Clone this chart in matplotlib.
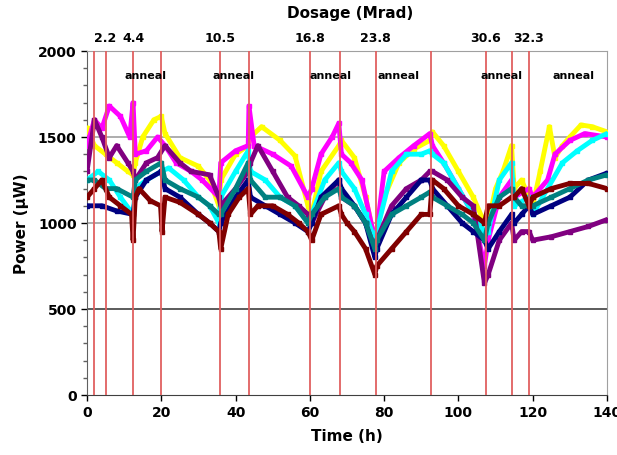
import numpy as np
import matplotlib
matplotlib.use("Agg")
import matplotlib.pyplot as plt

# red lines (h) and dosage labels
line_times = [2, 5, 12.5, 20, 35.7, 43.5, 60, 68, 77.7, 92.5, 107.3, 114.5, 119]
dose_times = [5, 12.5, 35.7, 60, 77.7, 107.3, 119]
dose_labels = ["2.2", "4.4", "10.5", "16.8", "23.8", "30.6", "32.3"]
anneal_times = [15.7, 39.5, 65.5, 84, 111.5, 131]

# series (time h, power uW)
yellow_t = [0, 2, 5, 8, 11, 12.4, 13, 15, 18, 20, 21, 25, 30, 33, 35.5,
            36, 40, 43.4, 44, 47, 52, 56, 59.5, 60.5, 63, 67.8,
            68.5, 72, 75, 77.5, 78, 80, 84, 88, 92.3, 93, 96, 100, 104, 107,
            108, 110, 112, 114.3, 115, 117, 119, 120, 122, 124.5, 126, 128, 130, 133, 136, 140]
yellow_p = [1550, 1450, 1400, 1350, 1300, 1280, 1350, 1500, 1600, 1620, 1520, 1380, 1330, 1250, 1100,
            1250, 1400, 1450, 1500, 1560, 1480, 1390, 1100, 1050, 1300, 1450,
            1480, 1380, 1150, 900, 950, 1150, 1350, 1430, 1480, 1530, 1450, 1300, 1150, 1000,
            1000, 1200, 1300, 1450, 1200, 1250, 1150, 1100, 1300, 1560, 1380, 1450, 1500, 1570, 1560, 1530]

magenta_t = [0, 2, 4, 6, 9, 11.5, 12.4, 13, 16, 19, 21, 24, 28, 31, 35.5,
             36, 40, 43.4, 43.6, 45, 50, 55, 59.5, 60.5, 63, 66, 67.8,
             68.5, 71, 74, 77.5, 78, 80, 84, 88, 92.3, 93, 96, 100, 104, 107,
             108, 111, 114.3, 115, 119, 120, 124, 126, 130, 134, 140]
magenta_p = [1450, 1600, 1550, 1680, 1620, 1500, 1700, 1400, 1420, 1500, 1450, 1350, 1300, 1250, 1150,
             1350, 1420, 1450, 1680, 1450, 1400, 1330, 1150, 1200, 1400, 1500, 1580,
             1400, 1350, 1250, 900, 950, 1300, 1380, 1450, 1520, 1450, 1350, 1200, 1050, 750,
             900, 1150, 1250, 1150, 1200, 1150, 1250, 1400, 1480, 1520, 1500]

cyan_t = [0, 3, 6, 9, 12.4, 13, 16, 20, 22, 26, 30, 33, 35.5,
          36, 40, 43.4, 44, 48, 52, 56, 59.5, 60.5, 64, 67.8,
          68.5, 72, 75, 77.5, 78, 82, 86, 90, 92.3, 93, 96, 100, 104, 107,
          108, 111, 114.3, 115, 119, 120, 124, 128, 132, 136, 140]
cyan_p = [1250, 1300, 1250, 1150, 1050, 1200, 1250, 1300, 1320, 1250, 1150, 1100, 1000,
          1150, 1300, 1420, 1300, 1250, 1150, 1100, 1000, 1050, 1250, 1350,
          1300, 1200, 1050, 900, 950, 1300, 1400, 1400, 1420, 1400, 1350, 1200, 1050, 950,
          950, 1250, 1350, 1100, 1150, 1050, 1200, 1350, 1420, 1480, 1520]

purple_t = [0, 2, 4, 6, 8, 11, 12.4, 13, 16, 19, 21, 25, 28, 33, 35.5,
            36, 40, 43.4, 44, 46, 50, 54, 57, 59.5, 60.5, 64, 67.8,
            68.5, 72, 75, 77.5, 78, 82, 86, 90, 92.3, 93, 97, 101, 104, 107,
            108, 111, 114.3, 115, 117, 119, 120, 125, 130, 135, 140]
purple_p = [1300, 1600, 1500, 1380, 1450, 1350, 1300, 1250, 1350, 1380, 1450, 1350, 1300, 1280, 1150,
            1100, 1200, 1300, 1350, 1450, 1300, 1150, 1100, 1050, 1000, 1150, 1250,
            1150, 1100, 1000, 850, 900, 1100, 1200, 1250, 1300, 1300, 1250, 1150, 1100, 650,
            700, 900, 1000, 900, 950, 950, 900, 920, 950, 980, 1020]

navy_t = [0, 4, 8, 12.4, 13, 16, 20, 21, 25, 30, 33, 35.5,
          36, 40, 43.4, 44, 48, 52, 56, 59.5, 60.5, 63, 67.8,
          68.5, 72, 75, 77.5, 78, 82, 86, 90, 92.3, 93, 97, 101, 104, 107,
          108, 111, 114.3, 115, 117, 119, 120, 125, 130, 135, 140]
navy_p = [1100, 1100, 1070, 1050, 1150, 1250, 1300, 1200, 1150, 1050, 1000, 950,
          1000, 1150, 1250, 1150, 1100, 1050, 1000, 950, 1000, 1150, 1250,
          1200, 1100, 1000, 800, 850, 1050, 1150, 1250, 1250, 1200, 1100, 1000, 950, 900,
          850, 950, 1050, 1000, 1050, 1100, 1050, 1100, 1150, 1250, 1290]

teal_t = [0, 2, 5, 8, 12.4, 13, 16, 20, 21, 25, 30, 33, 35.5,
          36, 40, 43.4, 44, 48, 52, 56, 59.5, 60.5, 64, 67.8,
          68.5, 72, 75, 77.5, 78, 82, 86, 90, 92.3, 93, 97, 101, 104, 107,
          108, 111, 114.3, 115, 117, 119, 120, 125, 130, 135, 140]
teal_p = [1250, 1250, 1200, 1200, 1150, 1250, 1300, 1350, 1250, 1200, 1150, 1100, 1050,
          1050, 1200, 1350, 1250, 1150, 1150, 1100, 1000, 1050, 1150, 1200,
          1150, 1100, 1000, 850, 900, 1050, 1100, 1150, 1180, 1150, 1100, 1050, 1000, 900,
          1000, 1150, 1200, 1150, 1100, 1100, 1100, 1150, 1200, 1250, 1280]

darkred_t = [0, 2, 4, 6, 9, 12, 12.4, 13, 14, 17, 19.8, 20.2, 21, 25, 30, 33, 35.5,
             36, 38, 41, 43.4, 44, 46, 50, 54, 57, 59.5, 60.5, 63, 67.8,
             68.5, 70, 72, 75, 77.5, 78, 82, 86, 90, 92.3, 93, 96, 100, 104, 107,
             108, 111, 114.3, 115, 117, 119, 120, 125, 130, 135, 140]
darkred_p = [1150, 1200, 1250, 1150, 1100, 1050, 900, 1150, 1200, 1130, 1100, 950, 1150, 1120, 1050, 1000, 950,
             850, 1050, 1150, 1200, 1050, 1100, 1100, 1050, 1000, 950, 900, 1050, 1100,
             1050, 1000, 950, 850, 700, 750, 850, 950, 1050, 1050, 1250, 1200, 1100, 1050, 1000,
             1100, 1100, 1150, 1150, 1200, 1100, 1150, 1200, 1230, 1230, 1200]

series = [
    (yellow_t, yellow_p, "#ffff00"),
    (magenta_t, magenta_p, "#ff00ff"),
    (cyan_t, cyan_p, "#00ffff"),
    (purple_t, purple_p, "#800080"),
    (navy_t, navy_p, "#000080"),
    (teal_t, teal_p, "#008080"),
    (darkred_t, darkred_p, "#800000"),
]

fig = plt.figure(figsize=(6.17, 4.56), dpi=100)
ax = fig.add_axes([87 / 617, 60 / 456, 520 / 617, 344 / 456])

for y in [1000, 1500]:
    ax.axhline(y, color="#a0a0a0", lw=1.2, zorder=1)
ax.axhline(500, color="#404040", lw=1.2, zorder=1)

for t in line_times:
    ax.axvline(t, color="#e06060", lw=1.3, zorder=5)

for t, p, c in series:
    ax.plot(t, p, color=c, lw=3.5, marker="s", ms=3, zorder=3)

ax.set_xlim(0, 140)
ax.set_ylim(0, 2000)
ax.set_xticks(range(0, 141, 20))
ax.set_yticks(range(0, 2001, 500))
ax.set_yticks(range(0, 2001, 100), minor=True)
ax.tick_params(axis="both", labelsize=10, direction="out", length=4, width=1)
ax.tick_params(axis="y", which="minor", length=3, width=1, color="#606060")
for lab in ax.get_xticklabels() + ax.get_yticklabels():
    lab.set_fontweight("bold")

ax.spines["top"].set_color("#a0a0a0")
ax.spines["right"].set_color("#a0a0a0")
ax.spines["left"].set_color("#606060")
ax.spines["bottom"].set_color("#404040")

ax.set_xlabel("Time (h)", fontsize=11, fontweight="bold", labelpad=6)
ax.set_ylabel("Power (\u03bcW)", fontsize=11, fontweight="bold", labelpad=6)

for t, lab in zip(dose_times, dose_labels):
    ax.text(t, 2040, lab, ha="center", va="bottom", fontsize=9, fontweight="bold", clip_on=False)
ax.text(70.8, 2180, "Dosage (Mrad)", ha="center", va="bottom", fontsize=11, fontweight="bold", clip_on=False)

for t in anneal_times:
    ax.text(t, 1860, "anneal", ha="center", va="center", fontsize=8, fontweight="bold", zorder=6)

fig.savefig("out.png", dpi=100)
